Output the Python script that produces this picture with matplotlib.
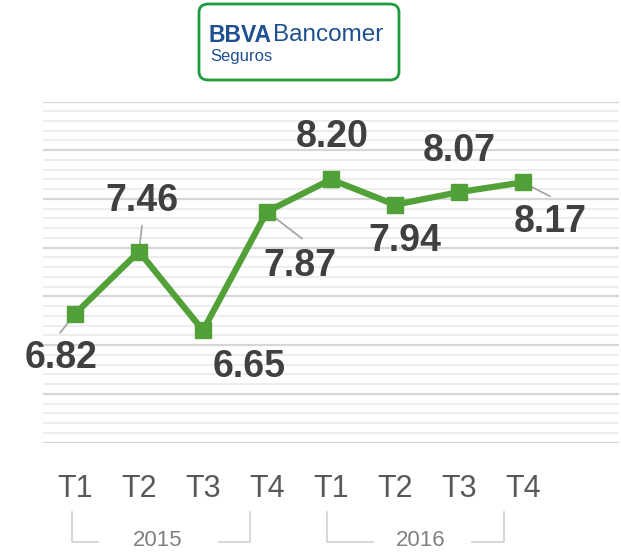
import matplotlib.pyplot as plt
from matplotlib.patches import FancyBboxPatch
from matplotlib.lines import Line2D

# Data
quarters = ["T1", "T2", "T3", "T4", "T1", "T2", "T3", "T4"]
values = [6.82, 7.46, 6.65, 7.87, 8.20, 7.94, 8.07, 8.17]
years = ["2015", "2016"]

# label offsets in pixels (dx, dy) from each point
label_offsets = [(-14, -44), (3, 51), (46, -37), (33, -54), (1, 42), (10, -36), (0, 41), (27, -40)]
# leader line end offsets in pixels (None = no leader)
leader_offsets = [(-15, -19), (3, 26), None, (35, -27), None, None, None, (27, -14)]

green = "#52a038"

fig = plt.figure(figsize=(6.21, 5.57), dpi=100)
W, H = 621, 557
ax = fig.add_axes([43 / W, 1 - 442.5 / H, (619 - 43) / W, (442.5 - 101.5) / H])

x = list(range(len(values)))
ax.set_xlim(-0.5, 8.5)
ax.set_ylim(5.5, 9.0)

# grid lines
for i in range(36):
    v = 5.5 + i * 0.1
    major = i % 5 == 0
    ax.axhline(v, color="#d6d6d6" if major else "#ececec", lw=1.6 if major else 1.3, zorder=0)

ax.plot(x, values, color=green, lw=4.5, marker="s", markersize=11.5, zorder=3,
        solid_joinstyle="miter")

for i, v in enumerate(values):
    dx, dy = label_offsets[i]
    ax.annotate(f"{v:.2f}", (i, v), xytext=(dx * 0.72, dy * 0.72), textcoords="offset points",
                ha="center", va="center", fontsize=27, fontweight="bold",
                color="#404040", family="Liberation Sans", zorder=4)
    if leader_offsets[i] is not None:
        lx, ly = leader_offsets[i]
        ax.annotate("", (i, v), xytext=(lx * 0.72, ly * 0.72), textcoords="offset points",
                    arrowprops=dict(arrowstyle="-", color="#a6a6a6", lw=1.3,
                                    shrinkA=0, shrinkB=0), zorder=2)

for s in ax.spines.values():
    s.set_visible(False)
ax.set_yticks([])
ax.set_xticks(x)
ax.set_xticklabels(quarters, fontsize=22, color="#595959", family="Liberation Sans")
ax.tick_params(axis="x", length=0, pad=23)

# year brackets (figure pixel coordinates)
bracket_color = "#d0d0d0"
brackets = [(72, 98, 219, 250, 158), (327, 373, 472, 504, 421)]
for (x0, x1, x2, x3, xt), yr in zip(brackets, years):
    for seg in [([x0, x0, x1], [512, 542, 542]), ([x2, x3, x3], [542, 542, 512])]:
        fig.add_artist(Line2D([p / W for p in seg[0]], [1 - p / H for p in seg[1]],
                              color=bracket_color, lw=1.2))
    fig.text(xt / W, 1 - 540 / H, yr, ha="center", va="center", fontsize=16,
             color="#808080", family="Liberation Sans")

# logo
logo = FancyBboxPatch((199 / W, 1 - 80 / H), 200 / W, 76 / H,
                      boxstyle="round,pad=0,rounding_size=0.015",
                      transform=fig.transFigure, facecolor="white",
                      edgecolor="#1f9a3e", lw=2)
fig.add_artist(logo)
fig.text(209 / W, 1 - 35 / H, "BBVA", fontsize=16.5, fontweight="bold", color="#1d4f91",
         family="Liberation Sans", va="center", ha="left")
fig.text(273 / W, 1 - 35 / H, "Bancomer", fontsize=17.5, color="#1d4f91",
         family="Liberation Sans", va="center", ha="left")
fig.text(210 / W, 1 - 57 / H, "Seguros", fontsize=12, color="#1d4f91",
         family="Liberation Sans", va="center", ha="left")

fig.savefig("out.png", dpi=100)
